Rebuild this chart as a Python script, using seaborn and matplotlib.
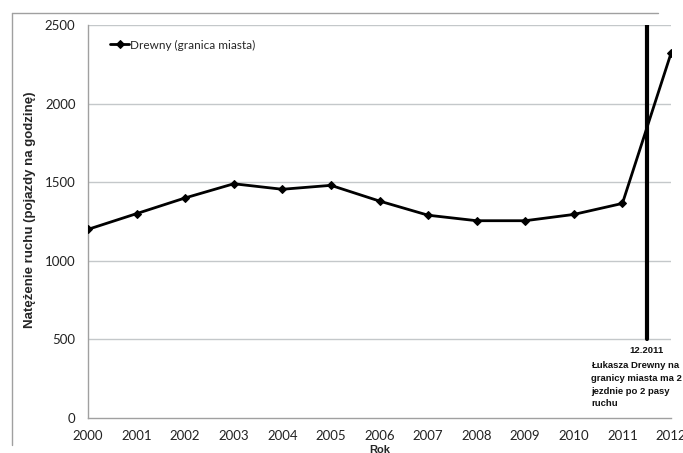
import matplotlib
matplotlib.use("Agg")
import matplotlib.pyplot as plt
from matplotlib.lines import Line2D
import seaborn as sns
import pandas as pd

years = [2000, 2001, 2002, 2003, 2004, 2005, 2006, 2007, 2008, 2009, 2010, 2011, 2012]
traffic = [1200, 1300, 1400, 1490, 1455, 1480, 1380, 1290, 1255, 1255, 1295, 1365, 2320]
series_name = "Drewny (granica miasta)"
event_year = 2011.5
event_date = "12.2011"
event_text = "Łukasza Drewny na\ngranicy miasta ma 2\njezdnie po 2 pasy\nruchu"
y_ticks = [0, 500, 1000, 1500, 2000, 2500]

sns.set_theme(style="white")
plt.rcParams["font.family"] = ["Lato", "DejaVu Sans"]
bold_family = ["Liberation Sans", "DejaVu Sans"]

df = pd.DataFrame({"Rok": years, "value": traffic, "series": series_name})

fig = plt.figure(figsize=(6.83, 4.53), dpi=100)
ax = fig.add_axes([88 / 683, 1 - 418 / 453, (671 - 88) / 683, (418 - 25) / 453])

for yv in y_ticks[1:]:
    ax.axhline(yv, color="#c4c8ca", lw=1.0, zorder=0)

sns.lineplot(data=df, x="Rok", y="value", hue="series", palette=["black"],
             marker="D", markersize=4, linewidth=2, markeredgecolor="black",
             ax=ax, zorder=3)

# vertical marker for the road widening
ax.plot([event_year, event_year], [500, 2500], color="black", lw=3, zorder=4)
ax.annotate(event_date, xy=(event_year, 500), xytext=(0, -5),
            textcoords="offset points", ha="center", va="top", fontsize=6.8,
            fontweight="bold", family=bold_family, color="#111111")
ax.annotate(event_text, xy=(event_year, 500), xytext=(-40, -15.5),
            textcoords="offset points", ha="left", va="top", fontsize=6.8,
            fontweight="bold", family=bold_family, color="#111111",
            linespacing=1.55)

ax.set_xlim(2000, 2012)
ax.set_ylim(0, 2500)
ax.set_xticks(years)
ax.set_yticks(y_ticks)
ax.tick_params(axis="both", labelsize=9.5, colors="#222222", length=4,
               direction="out", color="#a0a0a0", width=1)
ax.tick_params(axis="y", pad=4, length=5)
ax.tick_params(axis="x", pad=5)

for side in ["top", "right"]:
    ax.spines[side].set_visible(False)
for side in ["left", "bottom"]:
    ax.spines[side].set_color("#a0a0a0")
    ax.spines[side].set_linewidth(1)

ax.set_ylabel("Natężenie ruchu (pojazdy na godzinę)", fontsize=9.5,
              fontweight="bold", family=bold_family)
ax.yaxis.set_label_coords(-0.089, 0.53)
ax.set_xlabel("Rok", fontsize=8, fontweight="bold", family=bold_family)
ax.xaxis.set_label_coords(0.5, -0.0675)

ax.legend(loc="upper left", bbox_to_anchor=(0.02, 0.99), frameon=False,
          fontsize=8.5, handlelength=1.6, handletextpad=0.1)

# outer frame (top and left edges)
fig.add_artist(Line2D([12 / 683, 658 / 683], [1 - 13 / 453, 1 - 13 / 453],
                      color="#a0a0a0", lw=1))
fig.add_artist(Line2D([12 / 683, 12 / 683], [1 - 13 / 453, 1 - 445 / 453],
                      color="#a0a0a0", lw=1))

fig.savefig("out.png", dpi=100)
